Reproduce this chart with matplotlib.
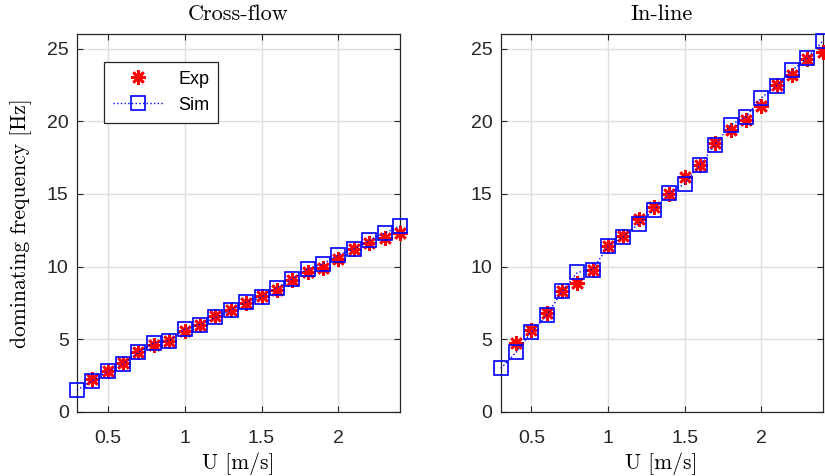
import matplotlib
matplotlib.use("Agg")
import matplotlib.pyplot as plt

# flow speed [m/s]
u_sim = [0.3, 0.4, 0.5, 0.6, 0.7, 0.8, 0.9, 1.0, 1.1, 1.2, 1.3,
         1.4, 1.5, 1.6, 1.7, 1.8, 1.9, 2.0, 2.1, 2.2, 2.3, 2.4]
u_exp = u_sim[1:]

# cross-flow dominating frequency [Hz]
cf_sim = [1.5, 2.15, 2.8, 3.3, 4.1, 4.75, 4.9, 5.7, 6.0, 6.5, 7.0,
          7.55, 7.9, 8.55, 9.15, 9.85, 10.2, 10.8, 11.2, 11.8, 12.3, 12.8]
cf_exp = [2.3, 2.8, 3.4, 4.1, 4.6, 4.9, 5.6, 6.0, 6.6, 7.0,
          7.5, 8.0, 8.4, 9.1, 9.6, 9.9, 10.5, 11.2, 11.6, 12.0, 12.3]

# in-line dominating frequency [Hz]
il_sim = [3.0, 4.1, 5.5, 6.65, 8.3, 9.6, 9.8, 11.4, 12.05, 12.95, 13.9,
          15.05, 15.7, 17.0, 18.4, 19.75, 20.3, 21.6, 22.45, 23.5, 24.35, 25.5]
il_exp = [4.75, 5.65, 6.8, 8.35, 8.9, 9.8, 11.4, 12.1, 13.25, 14.1,
          15.0, 16.15, 17.0, 18.5, 19.4, 20.1, 21.05, 22.5, 23.2, 24.3, 24.75]

titles = ["Cross-flow", "In-line"]
xticks = [0.5, 1, 1.5, 2]
xticklabels = ["0.5", "1", "1.5", "2"]
yticks = [0, 5, 10, 15, 20, 25]

plt.rcParams['font.family'] = ['Liberation Sans', 'DejaVu Sans']
serif = 'cmr10'

fig = plt.figure(figsize=(8.25, 4.76), dpi=100)
ax1 = fig.add_axes([0.0933, 0.1345, 0.3915, 0.794])
ax2 = fig.add_axes([0.607, 0.1345, 0.390, 0.794])

panels = [(ax1, cf_exp, cf_sim), (ax2, il_exp, il_sim)]
for i, (ax, yexp, ysim) in enumerate(panels):
    ax.plot(u_exp, yexp, linestyle='none', marker=(8, 2, 0), markersize=10.5,
            markeredgewidth=1.9, color='#ff0000', label='Exp', zorder=3,
            clip_on=False)
    ax.plot(u_sim, ysim, linestyle=':', linewidth=1.0, marker='s', markersize=9.5,
            markerfacecolor='none', markeredgewidth=1.2, color='#0000ff',
            label='Sim', zorder=4, clip_on=False)
    ax.set_xlim(0.3, 2.4)
    ax.set_ylim(0, 26)
    ax.set_xticks(xticks)
    ax.set_xticklabels(xticklabels)
    ax.set_yticks(yticks)
    ax.grid(True, color='#dfdfdf', linewidth=1.0)
    ax.set_axisbelow(True)
    ax.tick_params(direction='in', top=True, right=True, length=4,
                   labelsize=14, colors='#262626', width=0.8)
    ax.tick_params(axis='x', pad=13)
    ax.tick_params(axis='y', pad=6)
    for sp in ax.spines.values():
        sp.set_color('#262626')
        sp.set_linewidth(0.9)
    ax.set_title(titles[i], fontfamily=serif, fontsize=16, pad=10)
    ax.set_xlabel("U [m/s]", fontfamily=serif, fontsize=15.5, labelpad=4)

ax1.set_ylabel("dominating frequency [Hz]", fontfamily=serif, fontsize=15.5, labelpad=11)

leg = ax1.legend(loc='upper left', bbox_to_anchor=(0.084, 0.927), fontsize=13,
                 fancybox=False, framealpha=1, edgecolor='#262626',
                 handlelength=2.8, borderpad=0.5, labelspacing=0.5,
                 handletextpad=0.8, borderaxespad=0)
leg.get_frame().set_linewidth(0.9)

plt.savefig("out.png", dpi=100)
